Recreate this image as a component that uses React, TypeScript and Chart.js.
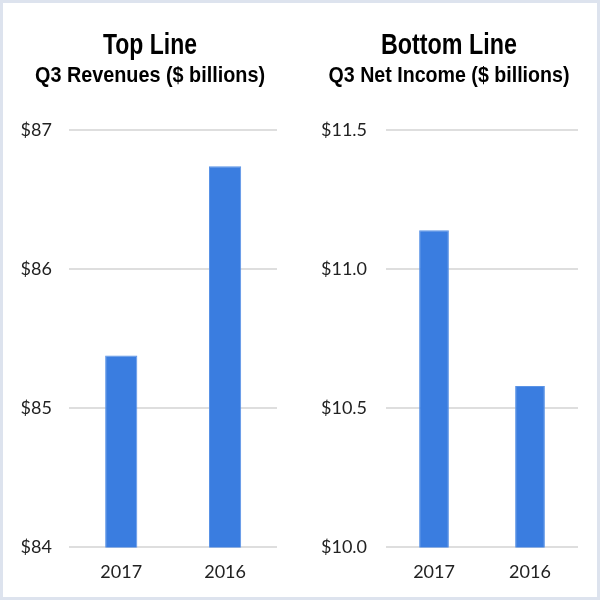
import React, { useEffect, useRef } from "react";
import { Chart, registerables } from "chart.js";

Chart.register(...registerables);

const categories = ["2017", "2016"];
const revenueValues = [85.38, 86.74];
const netIncomeValues = [11.14, 10.58];
const revenueTicks = [84, 85, 86, 87];
const incomeTicks = [10.0, 10.5, 11.0, 11.5];

const TITLE_FONT = "'Liberation Sans', Arial, sans-serif";
const TICK_FONT = "Lato, 'Open Sans', sans-serif";

type TitleSpec = {
  text: string;
  size: number;
  width: number;
  cx: number;
  y: number;
};

const titlePlugin = {
  id: "narrowTitles",
  afterDraw(chart: any, _args: any, opts: any) {
    const specs: TitleSpec[] = opts.items || [];
    const ctx = chart.ctx as CanvasRenderingContext2D;
    for (const s of specs) {
      ctx.save();
      ctx.font = `bold ${s.size}px ${TITLE_FONT}`;
      ctx.fillStyle = "#000";
      ctx.textAlign = "center";
      ctx.textBaseline = "alphabetic";
      const w = ctx.measureText(s.text).width;
      const sx = w > 0 ? s.width / w : 1;
      ctx.translate(s.cx, s.y);
      ctx.scale(sx, 1);
      ctx.fillText(s.text, 0, 0);
      ctx.restore();
    }
  },
};

function makeConfig(
  titles: TitleSpec[],
  values: number[],
  ticks: number[],
  step: number,
  fmt: (v: number) => string,
  padLeft: number,
  padRight: number,
  yPad: number
): any {
  return {
    type: "bar",
    data: {
      labels: categories,
      datasets: [
        {
          data: values,
          backgroundColor: "#3a7de0",
          borderColor: "#5a93e6",
          borderWidth: 1,
          barPercentage: 0.31,
          categoryPercentage: 1,
        },
      ],
    },
    plugins: [titlePlugin],
    options: {
      animation: false,
      responsive: false,
      maintainAspectRatio: false,
      layout: { padding: { left: padLeft, right: padRight, top: 127, bottom: 0 } },
      plugins: {
        legend: { display: false },
        tooltip: { enabled: false },
        title: { display: false },
        narrowTitles: { items: titles },
      },
      scales: {
        x: {
          grid: { display: false, drawTicks: false },
          border: { display: false },
          ticks: { color: "#222", font: { family: TICK_FONT, size: 18 }, padding: 14 },
        },
        y: {
          min: ticks[0],
          max: ticks[ticks.length - 1],
          afterBuildTicks: (axis: any) => {
            axis.ticks = ticks.map((v) => ({ value: v }));
          },
          grid: { color: "#dedede", lineWidth: 2, drawTicks: false },
          border: { display: false },
          ticks: {
            stepSize: step,
            color: "#222",
            font: { family: TICK_FONT, size: 18 },
            padding: yPad,
            callback: (v: any) => fmt(Number(v)),
          },
        },
      },
    },
  };
}

function Panel(props: { cfg: () => any; w: number; h: number }) {
  const ref = useRef<HTMLCanvasElement | null>(null);
  useEffect(() => {
    if (!ref.current) return;
    const chart = new Chart(ref.current, props.cfg());
    return () => chart.destroy();
  }, []);
  return (
    <canvas
      ref={ref}
      width={props.w}
      height={props.h}
      style={{ display: "block", width: props.w, height: props.h }}
    />
  );
}

export default function App() {
  return (
    <div
      style={{
        position: "fixed",
        left: 0,
        top: 0,
        width: 600,
        height: 600,
        boxSizing: "border-box",
        border: "3px solid #dde3ee",
        background: "#fff",
        display: "flex",
      }}
    >
      <Panel
        w={297}
        h={594}
        cfg={() =>
          makeConfig(
            [
              { text: "Top Line", size: 29, width: 94, cx: 147, y: 51 },
              { text: "Q3 Revenues ($ billions)", size: 22, width: 230, cx: 147, y: 78.5 },
            ],
            revenueValues,
            revenueTicks,
            1,
            (v) => "$" + v.toFixed(0),
            0,
            23,
            17.5
          )
        }
      />
      <Panel
        w={297}
        h={594}
        cfg={() =>
          makeConfig(
            [
              { text: "Bottom Line", size: 29, width: 136, cx: 149, y: 51 },
              { text: "Q3 Net Income ($ billions)", size: 22, width: 241, cx: 149, y: 78.5 },
            ],
            netIncomeValues,
            incomeTicks,
            0.5,
            (v) => "$" + v.toFixed(1),
            2,
            19,
            19
          )
        }
      />
    </div>
  );
}
